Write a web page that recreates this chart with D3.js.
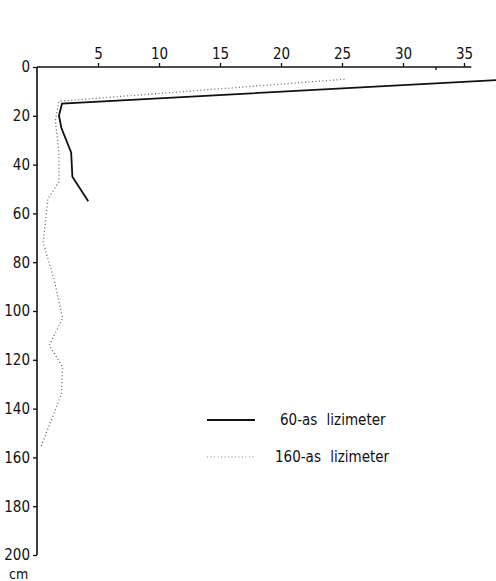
<!DOCTYPE html>
<html>
<head>
<meta charset="utf-8">
<script src="https://cdn.jsdelivr.net/npm/d3@7"></script>
<style>
	body { margin: 0; background: #fff; }
	text { font-family: "DejaVu Sans Condensed", "DejaVu Sans", sans-serif; fill: #111; }
</style>
</head>
<body>
<svg></svg>
<script>
var width = 496;
var height = 581;

// depth (cm), value
var depth60 = [5, 15, 20, 25, 35, 45, 55];
var value60 = [39, 2.05, 1.8, 2.0, 2.8, 2.9, 4.2];

var depth160 = [5, 14, 22, 35, 47, 54, 72, 87, 103, 114, 123, 134, 156];
var value160 = [25.2, 1.8, 1.5, 1.8, 1.8, 0.9, 0.5, 1.4, 2.1, 1.0, 2.1, 2.0, 0.3];

var xTicks = [5, 10, 15, 20, 25, 30, 35];
var yTicks = [0, 20, 40, 60, 80, 100, 120, 140, 160, 180, 200];
var legendLabels = ['60-as lizimeter', '160-as lizimeter'];

var svg = d3.select('svg')
	.attr('width', width)
	.attr('height', height);

var x = d3.scaleLinear()
	.domain([0, 35])
	.range([37, 464]);

var y = d3.scaleLinear()
	.domain([0, 200])
	.range([67, 555]);

var xAxis = d3.axisTop()
	.scale(x)
	.tickValues(xTicks)
	.tickSize(4)
	.tickPadding(4);

var gx = svg.append('g')
	.attr('transform', `translate(0,${y(0)})`)
	.call(xAxis);
gx.select('.domain').remove();
gx.append('line')
	.attr('x1', x(0)).attr('x2', x(35.6))
	.attr('stroke', '#111').attr('stroke-width', 1.6);

var yAxis = d3.axisLeft()
	.scale(y)
	.tickValues(yTicks)
	.tickSize(4)
	.tickPadding(3);

var gy = svg.append('g')
	.attr('transform', `translate(${x(0)},0)`)
	.call(yAxis);
gy.select('.domain').remove();
gy.append('line')
	.attr('y1', y(0)).attr('y2', y(200))
	.attr('stroke', '#111').attr('stroke-width', 1.6);

svg.selectAll('.tick line').attr('stroke', '#111').attr('stroke-width', 1.3);
svg.selectAll('.tick text')
	.attr('font-size', 15)
	.attr('font-family', '"DejaVu Sans Condensed", sans-serif')
	.attr('fill', '#111');

// unlabeled mark on the top axis
gx.append('line')
	.attr('x1', x(32.7)).attr('x2', x(32.7))
	.attr('y1', 0).attr('y2', 3)
	.attr('stroke', '#111').attr('stroke-width', 1.3);

svg.append('text')
	.attr('x', 9)
	.attr('y', 579)
	.attr('font-size', 14)
	.text('cm');

var line = d3.line()
	.x(function(d) { return x(d[1]); })
	.y(function(d) { return y(d[0]); });

svg.append('path')
	.attr('d', line(d3.zip(depth160, value160)))
	.attr('stroke', '#666')
	.attr('stroke-width', 1.3)
	.attr('stroke-dasharray', '1,2.5')
	.attr('fill', 'none');

svg.append('path')
	.attr('d', line(d3.zip(depth60, value60)))
	.attr('stroke', '#111')
	.attr('stroke-width', 1.8)
	.attr('fill', 'none');

// legend
var legend = svg.append('g');
var styles = [
	{ stroke: '#111', width: 1.8, dash: null },
	{ stroke: '#888', width: 1.2, dash: '1,2.5' }
];
legendLabels.forEach(function(label, i) {
	var ly = 420 + i * 37;
	legend.append('line')
		.attr('x1', 207).attr('x2', 255)
		.attr('y1', ly).attr('y2', ly)
		.attr('stroke', styles[i].stroke)
		.attr('stroke-width', styles[i].width)
		.attr('stroke-dasharray', styles[i].dash);
	legend.append('text')
		.attr('x', i === 0 ? 280 : 275)
		.attr('y', ly + 5)
		.attr('font-size', 15)
		.attr('word-spacing', 5)
		.text(label);
});
</script>
</body>
</html>
